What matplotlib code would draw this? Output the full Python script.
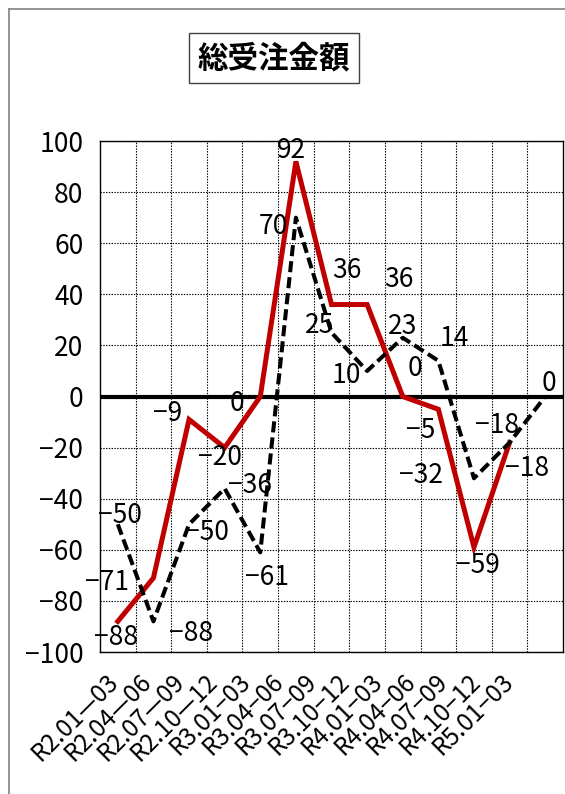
import numpy as np
import matplotlib.pyplot as plt
import matplotlib.transforms as mtransforms
from matplotlib.lines import Line2D

plt.rcParams['font.family'] = ['Noto Sans CJK JP', 'DejaVu Sans']
plt.rcParams['lines.scale_dashes'] = False

## data
periods = ["R2.01\u201403", "R2.04\u201406", "R2.07\u201409", "R2.10\u201412",
           "R3.01\u221203", "R3.04\u221206", "R3.07\u221209", "R3.10\u221212",
           "R4.01\u221203", "R4.04\u221206", "R4.07\u221209", "R4.10\u221212",
           "R5.01\u221203"]
red_vals = [-88, -71, -9, -20, 0, 92, 36, 36, 0, -5, -59, -18]
dash_vals = [-50, -88, -50, -36, -61, 70, 25, 10, 23, 14, -32, -18, 0]
yticks = [-100, -80, -60, -40, -20, 0, 20, 40, 60, 80, 100]

# label offsets in pixels (x right, y up)
red_offsets = [(-2, -16), (-46, -5), (-21, 6), (-5, -10), (-23, -7), (-4, 11),
               (15, 34), (32, 25), (12, 28), (-18, -21), (4, -18), (17, -26)]
dash_offsets = [(2, 9), (38, -12), (18, -8), (25, 3), (7, -25), (-23, -9),
                (-12, 7), (-21, -5), (0, 11), (16, 22), (-53, 3), (-13, 17), (4, 13)]

fig = plt.figure(figsize=(5.65, 7.94), dpi=100)
ax = fig.add_axes([0.177, 0.1788, 0.8195, 0.6436])

x = np.arange(len(periods))

ax.axhline(0, color='black', lw=3, zorder=2)
ax.plot(x[:len(red_vals)], red_vals, color='#C00000', lw=3.6, zorder=3,
        solid_joinstyle='miter')
ax.plot(x, dash_vals, color='black', lw=2.9, dashes=(8, 3.6), zorder=4)

def fmt(v):
    return ("\u2212%d" % -v) if v < 0 else "%d" % v

for i, v in enumerate(red_vals):
    ax.annotate(fmt(v), (i, v), xytext=red_offsets[i], textcoords='offset pixels',
                ha='center', va='center', fontsize=19, zorder=5)
for i, v in enumerate(dash_vals):
    ax.annotate(fmt(v), (i, v), xytext=dash_offsets[i], textcoords='offset pixels',
                ha='center', va='center', fontsize=19, zorder=5)

ax.set_xlim(-0.5, len(periods) - 0.5)
ax.set_ylim(-100, 100)
ax.set_yticks(yticks)
ax.set_xticks(x)
ax.set_xticks(np.arange(len(periods) - 1) + 0.5, minor=True)
ax.set_xticklabels(periods, rotation=45, ha='right', va='top',
                   rotation_mode='anchor', fontsize=17.5)
ax.tick_params(axis='y', length=0, pad=12, labelsize=19)
ax.tick_params(axis='x', which='both', length=0, pad=12)
# category labels are squeezed a little toward the left, like the original
for i, lab in enumerate(ax.get_xticklabels()):
    shift = mtransforms.ScaledTranslation((-12 - 2.7 * i) / 100, 0, fig.dpi_scale_trans)
    lab.set_transform(lab.get_transform() + shift)
ax.grid(True, axis='y', color='black', lw=0.8, linestyle=(0, (1, 1)))
ax.grid(True, axis='x', which='minor', color='black', lw=0.8, linestyle=(0, (1, 1)))
for s in ax.spines.values():
    s.set_color('black')
    s.set_linewidth(1)

## title
fig.text(0.485, 0.927, "総受注金額", ha='center', va='center', fontsize=22,
         fontweight='bold',
         bbox=dict(boxstyle='square,pad=0.3', fc='white', ec='#404040', lw=1))

## outer frame
fig.add_artist(Line2D([0.016, 0.016], [0, 0.9887], color='#808080', lw=1.2,
                      transform=fig.transFigure))
fig.add_artist(Line2D([0.016, 1], [0.9887, 0.9887], color='#808080', lw=1.2,
                      transform=fig.transFigure))

fig.savefig("out.png", dpi=100)
